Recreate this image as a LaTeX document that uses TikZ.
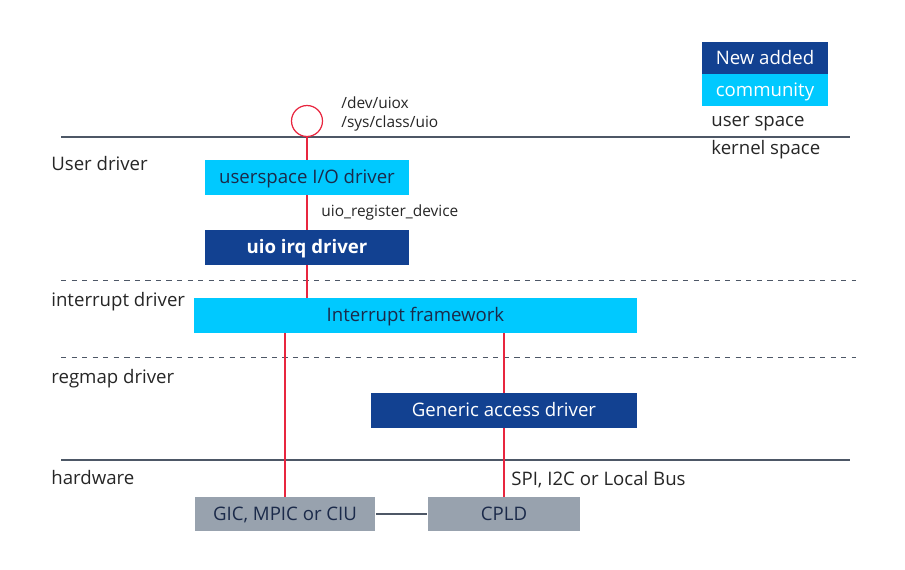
\documentclass[tikz,border=0pt]{standalone}
\usepackage{fontspec}
\setmainfont{Open Sans}
\usepackage{tikz}
\usetikzlibrary{calc}
\usetikzlibrary{positioning}
\definecolor{newblue}{HTML}{124191}
\definecolor{commcyan}{HTML}{00C9FF}
\definecolor{hwgray}{HTML}{98A2AE}
\definecolor{linegray}{HTML}{4D5766}
\definecolor{txtnavy}{HTML}{1B2A4A}
\definecolor{txtdark}{HTML}{262626}
\definecolor{wirered}{HTML}{E8263F}
\tikzstyle{lbl} = [draw = none, inner sep = 0, anchor = west, text = txtdark, font = \fontsize{10.6}{12}\selectfont]
\tikzstyle{small} = [draw = none, inner sep = 0, anchor = west, text = txtdark, font = \fontsize{8.8}{10}\selectfont]
\tikzstyle{box} = [draw = none, text height = 0.85em, text depth = 0.15em, font = \fontsize{10.6}{12}\selectfont]
\tikzstyle{comm} = [box, fill = commcyan, text = txtnavy, minimum height = 0.7cm]
\tikzstyle{new} = [box, fill = newblue, text = white, minimum height = 0.7cm]
\tikzstyle{hw} = [box, fill = hwgray, text = txtnavy, minimum height = 0.68cm]
\tikzstyle{wire} = [-, draw = wirered, line width = 0.7pt]
\tikzstyle{border} = [-, draw = linegray, line width = 1.2pt]
\tikzstyle{level} = [-, draw = linegray, dashed, line width = 0.5pt]

\begin{document}
\begin{tikzpicture}[x = 0.02cm, y = -0.02cm]
\useasboundingbox (0, 0) rectangle (905, 569);
% legend
\node [new, minimum width = 2.52cm, minimum height = 0.64cm] (leg-new) at (765, 58) {New added};
\node [comm, text = white, minimum width = 2.52cm, minimum height = 0.64cm] (leg-comm) at (765, 90) {community};
\node [lbl] (uspace) at (711, 124) {user space};
\node [lbl] (kspace) at (711, 150) {kernel space};
% level lines
\coordinate (us-l) at (61, 137);
\coordinate (us-r) at (850, 137);
\coordinate (ir-l) at (61, 280);
\coordinate (ir-r) at (856, 280);
\coordinate (rm-l) at (61, 357);
\coordinate (rm-r) at (856, 357);
\coordinate (hw-l) at (61, 460);
\coordinate (hw-r) at (850, 460);
\draw [border] (us-l) -- (us-r);
\draw [level] (ir-l) -- (ir-r);
\draw [level] (rm-l) -- (rm-r);
\draw [border] (hw-l) -- (hw-r);
% layer names
\node [lbl] (l-user) at (51, 164) {User driver};
\node [lbl] (l-irq) at (51, 302) {interrupt driver};
\node [lbl] (l-rm) at (51, 379) {regmap driver};
\node [lbl] (l-hw) at (51, 478) {hardware};
% device node
\node [draw = wirered, circle, line width = 0.7pt, minimum size = 0.62cm, inner sep = 0] (dev) at (307, 121) {};
\node [small] (devpath) at (341, 103) {/dev/uiox};
\node [small] (syspath) at (341, 123) {/sys/class/uio};
% drivers
\node [comm, minimum width = 4.1cm] (uio) at (307, 177.5) {userspace I/O driver};
\node [small] (reg) at (321, 212) {uio\_register\_device};
\node [new, minimum width = 4.1cm, font = \fontsize{10.6}{12}\selectfont\bfseries] (uioirq) at (307, 247.5) {uio irq driver};
\node [comm, minimum width = 8.86cm] (intfw) at (415.5, 315.5) {Interrupt framework};
\node [new, minimum width = 5.34cm] (gad) at (504, 410.5) {Generic access driver};
% hardware
\node [hw, minimum width = 3.62cm] (gic) at (285, 514) {GIC, MPIC or CIU};
\node [hw, minimum width = 3.06cm] (cpld) at (504, 514) {CPLD};
\node [lbl] (bus) at (511, 480) {SPI, I2C or Local Bus};
% connections
\draw [wire] (dev) to (uio);
\draw [wire] (uio) to (uioirq);
\draw [wire] (uioirq.south) to (uioirq.south |- intfw.north);
\draw [wire] (gic.north) to (gic.north |- intfw.south);
\draw [wire] (gad.north) to (gad.north |- intfw.south);
\draw [wire] (gad) to (cpld);
\draw [-, draw = linegray, line width = 0.6pt] (gic) to (cpld);
\end{tikzpicture}
\end{document}
